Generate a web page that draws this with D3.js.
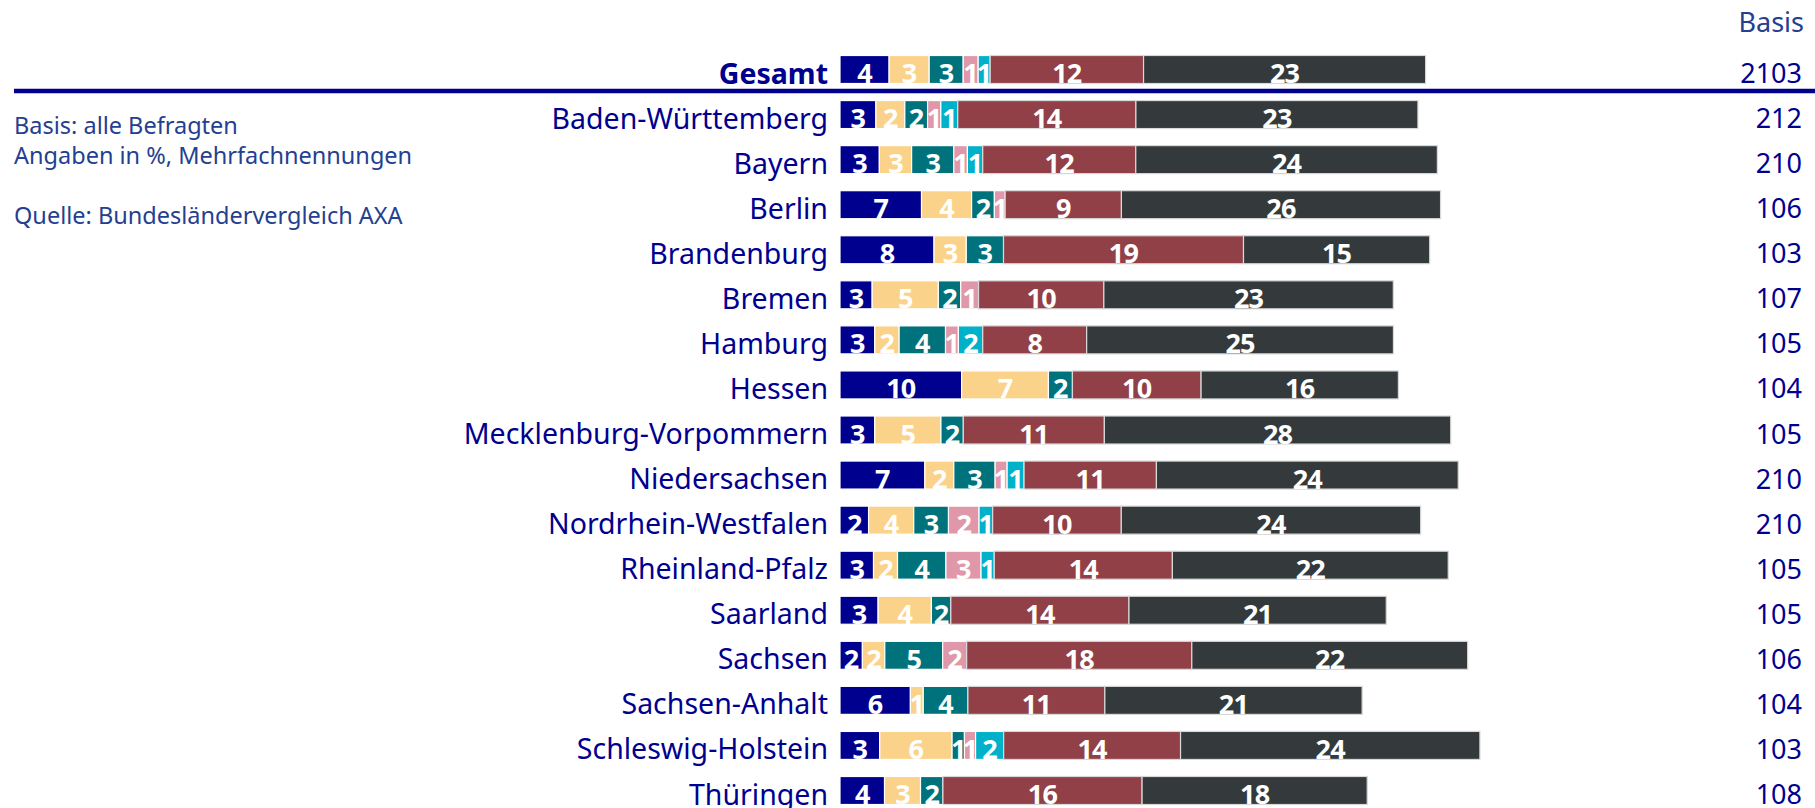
<!DOCTYPE html>
<html>
<head>
<meta charset="utf-8">
<script src="https://cdn.jsdelivr.net/npm/d3@7"></script>
<style>
  body { margin:0; background:#fff; font-family:"Noto Sans", sans-serif; }
  svg { display:block; }
</style>
</head>
<body>
<div id="chart"></div>
<script>
// ---- data ----
const states = ["Gesamt", "Baden-Württemberg", "Bayern", "Berlin", "Brandenburg", "Bremen", "Hamburg",
  "Hessen", "Mecklenburg-Vorpommern", "Niedersachsen", "Nordrhein-Westfalen", "Rheinland-Pfalz",
  "Saarland", "Sachsen", "Sachsen-Anhalt", "Schleswig-Holstein", "Thüringen"];
const basis = [2103, 212, 210, 106, 103, 107, 105, 104, 105, 210, 210, 105, 105, 106, 104, 103, 108];

// segment values (%), in stacking order
const s1 = [3.97, 2.9, 3.18, 6.59, 7.6, 2.6, 2.81, 9.83, 2.81, 6.86, 2.31, 2.71, 3.08, 1.81, 5.69, 3.21, 3.6];
const s2 = [3.24, 2.34, 2.61, 4.05, 2.61, 5.35, 1.97, 7.02, 5.35, 2.34, 3.65, 1.94, 4.31, 1.81, 1.04, 5.85, 2.91];
const s3 = [2.75, 1.84, 3.41, 1.84, 3.01, 1.81, 3.75, 1.94, 1.81, 3.34, 2.81, 3.91, 1.57, 4.68, 3.61, 1.0, 1.81];
const s4 = [1.21, 1.07, 1.10, 0.87, 0, 1.44, 1.04, 0, 0, 0.97, 2.47, 2.84, 0, 1.94, 0, 0.9, 0];
const s5 = [0.97, 1.37, 1.24, 0, 0, 0, 1.97, 0, 0, 1.37, 1.10, 1.07, 0, 0, 0, 2.27, 0];
const s6 = [12.4, 14.4, 12.37, 9.4, 19.4, 10.13, 8.4, 10.4, 11.4, 10.7, 10.4, 14.4, 14.4, 18.2, 11.07, 14.3, 16.1];
const s7 = [22.8, 22.8, 24.38, 25.8, 15.05, 23.4, 24.8, 15.95, 28.0, 24.4, 24.2, 22.3, 20.8, 22.3, 20.8, 24.2, 18.2];

const seriesKeys = ["s1", "s2", "s3", "s4", "s5", "s6", "s7"];
const seriesColors = ["#00008f", "#fbd289", "#00727b", "#df97a9", "#00b1c9", "#914047", "#343a3c"];

const footnotes = ["Basis: alle Befragten", "Angaben in %, Mehrfachnennungen", "", "Quelle:  Bundesländervergleich AXA"];

// ---- layout ----
const width = 1815, height = 808;
const navy = "#00008f", lightNavy = "#24408f";

const rows = states.map((st, i) => ({
  state: st, basis: basis[i],
  s1: s1[i], s2: s2[i], s3: s3[i], s4: s4[i], s5: s5[i], s6: s6[i], s7: s7[i]
}));

const stack = d3.stack().keys(seriesKeys)(rows);

const x = d3.scaleLinear().domain([0, 55]).range([840, 840 + 55 * 12.37]);
const y = d3.scalePoint().domain(states).range([69.5, 790.5]);
const barH = 28;
const color = d3.scaleOrdinal().domain(seriesKeys).range(seriesColors);

const svg = d3.select("#chart").append("svg").attr("width", width).attr("height", height);

// bars
const layers = svg.append("g").selectAll("g.layer").data(stack).join("g")
  .attr("class", "layer").attr("fill", d => color(d.key));

layers.selectAll("rect").data(d => d.filter(p => p[1] - p[0] > 0)).join("rect")
  .attr("x", d => x(d[0]))
  .attr("y", d => y(d.data.state) - barH / 2)
  .attr("width", d => x(d[1]) - x(d[0]))
  .attr("height", barH)
  .attr("stroke", "#fff")
  .attr("stroke-width", 1.2);

// dark segments get a soft grey outline
layers.filter(d => d.key === "s7" || d.key === "s6").selectAll("rect")
  .attr("stroke", "#d8d8d8");

layers.selectAll("text").data(d => d.filter(p => p[1] - p[0] > 0)).join("text")
  .attr("x", d => (x(d[0]) + x(d[1])) / 2)
  .attr("y", d => y(d.data.state) + 3)
  .attr("text-anchor", "middle")
  .attr("dominant-baseline", "central")
  .attr("fill", "#fff")
  .attr("font-weight", "bold")
  .attr("font-size", 27)
  .attr("letter-spacing", -0.8)
  .text(d => Math.round(d[1] - d[0]));

// state labels
svg.append("g").selectAll("text").data(rows).join("text")
  .attr("x", 828)
  .attr("y", d => y(d.state) + 3)
  .attr("text-anchor", "end")
  .attr("dominant-baseline", "central")
  .attr("fill", navy)
  .attr("font-size", 28.5)
  .attr("font-weight", d => d.state === "Gesamt" ? "bold" : "normal")
  .text(d => d.state);

// basis column
svg.append("text")
  .attr("x", 1804).attr("y", 21)
  .attr("text-anchor", "end").attr("dominant-baseline", "central")
  .attr("fill", lightNavy).attr("font-size", 27)
  .text("Basis");

svg.append("g").selectAll("text").data(rows).join("text")
  .attr("x", 1802)
  .attr("y", d => y(d.state) + 3)
  .attr("text-anchor", "end")
  .attr("dominant-baseline", "central")
  .attr("fill", navy)
  .attr("font-size", 27)
  .text(d => d.basis);

// separator under Gesamt
svg.append("line")
  .attr("x1", 14).attr("x2", width)
  .attr("y1", 91).attr("y2", 91)
  .attr("stroke", navy).attr("stroke-width", 4.5);

// footnotes
svg.append("text")
  .attr("x", 14).attr("y", 134)
  .attr("fill", lightNavy).attr("font-size", 23.5)
  .selectAll("tspan").data(footnotes).join("tspan")
  .attr("x", 14)
  .attr("dy", (d, i) => i === 0 ? 0 : 30)
  .text(d => d || " ");
</script>
</body>
</html>
